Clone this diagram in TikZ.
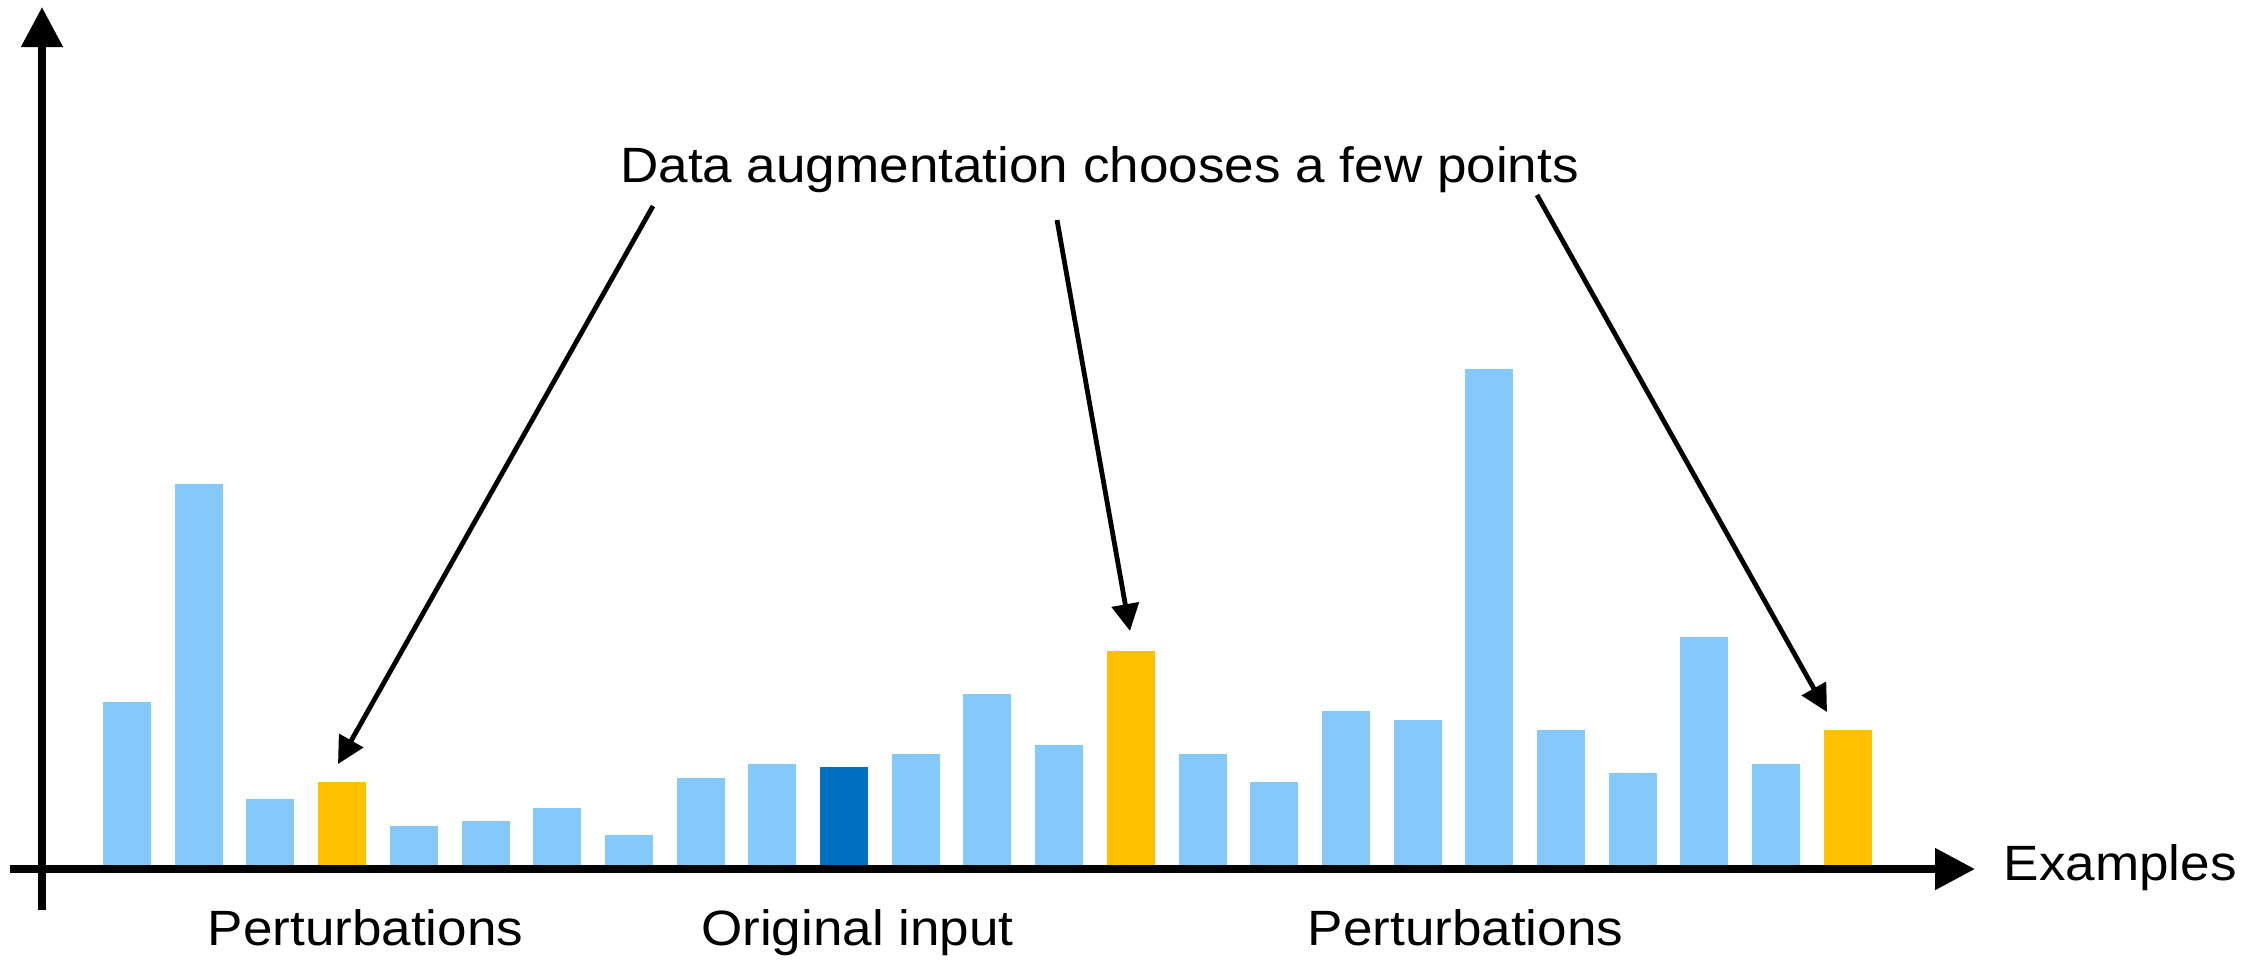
\documentclass[tikz,border=0pt]{standalone}
\usepackage{fontspec}
\setmainfont{Liberation Sans}[FakeStretch=1.07]
\usetikzlibrary{arrows.meta}
\definecolor{lb}{RGB}{133,201,252}
\definecolor{db}{RGB}{0,112,192}
\definecolor{yl}{RGB}{255,192,0}
\tikzset{
  bar/.style={inner sep=0pt, outer sep=0pt, draw=none, minimum width=0.48cm, anchor=south west},
  axisline/.style={line width=0.08cm, -{Triangle[length=0.40cm, width=0.40cm]}},
  pointer/.style={line width=0.048cm, -{Triangle[length=0.27cm, width=0.27cm]}},
  lbl/.style={inner sep=0pt, font=\fontsize{14.1pt}{16pt}\selectfont, anchor=base}
}
\begin{document}
\begin{tikzpicture}[x=0.01cm, y=-0.01cm]
\useasboundingbox (0,0) rectangle (2261,959);
% bars
\foreach \t/\c [count=\i] in {702/lb, 484/lb, 799/lb, 782/yl, 826/lb, 821/lb, 808/lb, 835/lb, 778/lb, 764/lb, 767/db, 754/lb, 694/lb, 745/lb, 651/yl, 754/lb, 782/lb, 711/lb, 720/lb, 369/lb, 730/lb, 773/lb, 637/lb, 764/lb, 730/yl}{
  \pgfmathsetmacro\bx{103+(\i-1)*71.7}
  \pgfmathsetmacro\bh{(869-\t)*0.01}
  \node[bar, fill=\c, minimum height=\bh cm] (b\i) at (\bx,869) {};
}
% axes
\coordinate (yb) at (42,910);
\coordinate (yt) at (42,7);
\coordinate (xl) at (10,869);
\coordinate (xr) at (1975,869);
\draw[axisline] (yb) -- (yt);
\draw[axisline] (xl) -- (xr);
% labels
\node[lbl] (title) at (1099.5,182) {Data augmentation chooses a few points};
\node[lbl] (pl) at (365.5,945) {Perturbations};
\node[lbl] (oi) at (857.5,945) {Original input};
\node[lbl] (pr) at (1465.5,945) {Perturbations};
\node[lbl, anchor=base west] (ex) at (2003,880) {Examples};
% pointers
\coordinate (s1) at (653,206);
\coordinate (e1) at (338,764);
\coordinate (s2) at (1057,220);
\coordinate (e2) at (1130,631);
\coordinate (s3) at (1537,195);
\coordinate (e3) at (1827,712);
\draw[pointer] (s1) -- (e1);
\draw[pointer] (s2) -- (e2);
\draw[pointer] (s3) -- (e3);
\end{tikzpicture}
\end{document}
